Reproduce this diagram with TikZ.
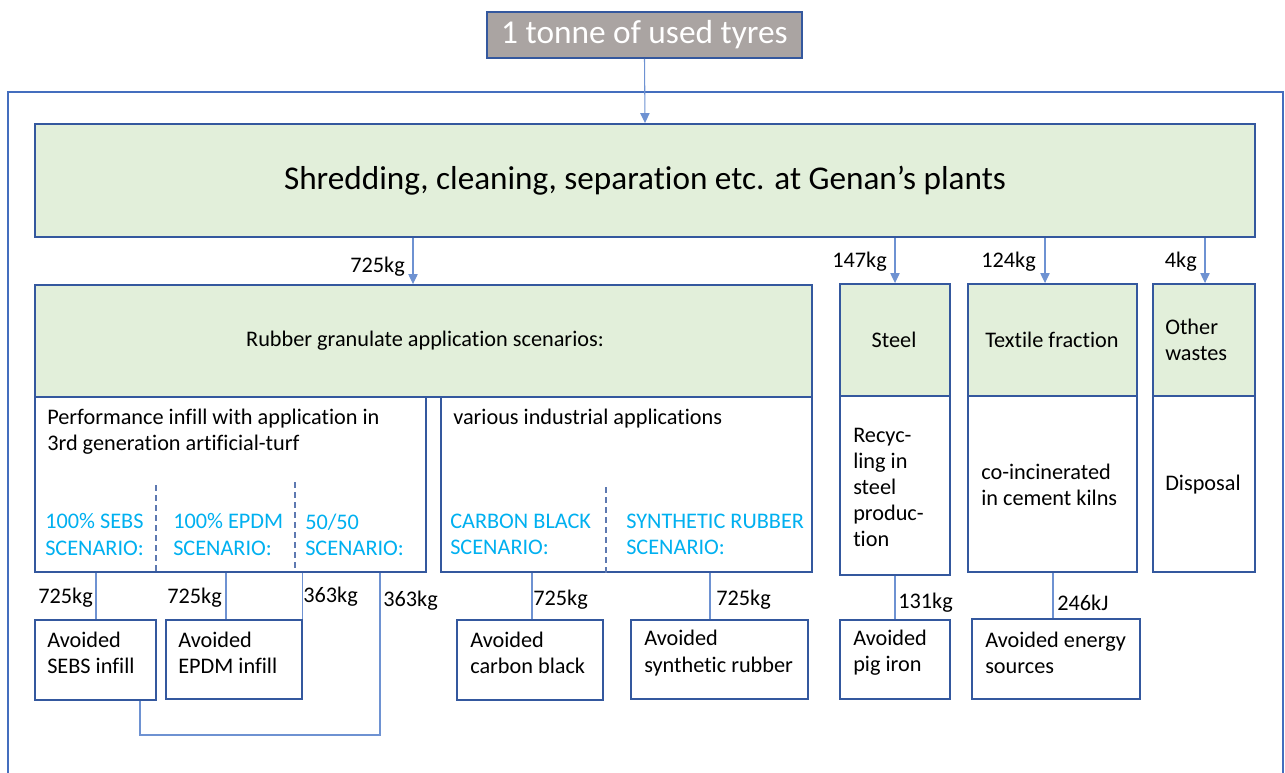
\documentclass[tikz,border=0pt]{standalone}
\usepackage{fontspec}
\setmainfont{Carlito}[Ligatures={NoCommon}]
\usetikzlibrary{arrows.meta,calc}
\definecolor{bord}{RGB}{52,88,158}
\definecolor{conn}{RGB}{110,146,210}
\definecolor{framec}{RGB}{68,110,190}
\definecolor{gfill}{RGB}{226,239,218}
\definecolor{grayfill}{RGB}{170,164,162}
\definecolor{scen}{RGB}{0,176,240}
\newcommand\smallfnt{\fontsize{16.7}{19.6}\selectfont}
\newcommand\bigfnt{\fontsize{24.9}{28}\selectfont}
\newcommand\topfnt{\fontsize{25}{28}\selectfont}
\begin{document}
\begin{tikzpicture}[x=0.75pt,y=-0.75pt,
  box/.style={draw=bord, line width=1.4pt, inner sep=0pt, fill=white},
  gbox/.style={box, fill=gfill},
  txt/.style={inner sep=0pt, align=left, font=\smallfnt, anchor=west},
  stxt/.style={txt, text=scen},
  lbl/.style={inner sep=0pt, font=\smallfnt},
  conline/.style={draw=conn, line width=0.8pt},
  arr/.style={conline, -{Triangle[length=7.5pt,width=7pt]}},
  dashline/.style={draw=bord!80, line width=0.9pt, dash pattern=on 4.5pt off 3pt},
  frameline/.style={draw=framec, line width=1.4pt}]
\useasboundingbox (0,0) rectangle (1285,773);
\fill[white] (0,0) rectangle (1285,773);
% outer frame
\draw[frameline] (8,790) -- (8,92) -- (1283,92) -- (1283,790);
% top nodes
\node[box, fill=grayfill, minimum width=236.25pt, minimum height=34.5pt, text=white, font=\topfnt] (top) at (644.5,35) {1 tonne of used tyres};
\node[gbox, minimum width=915pt, minimum height=84.75pt, font=\bigfnt] (shred) at (645,180.5) {Shredding, cleaning, separation etc. at Genan’s plants};
% green fraction boxes
\node[gbox, minimum width=582.75pt, minimum height=84pt] (rubber) at (423.5,341) {};
\node[gbox, minimum width=82.5pt, minimum height=84pt] (steel) at (895,340) {};
\node[gbox, minimum width=126.75pt, minimum height=84pt] (textile) at (1052.5,340) {};
\node[gbox, minimum width=76.5pt, minimum height=84pt] (other) at (1204,340) {};
% white boxes
\node[box, minimum width=293.25pt, minimum height=131.25pt] (perf) at (230.5,484.5) {};
\node[box, minimum width=278.25pt, minimum height=131.25pt] (various) at (626.5,484.5) {};
\node[box, minimum width=82.5pt, minimum height=134.25pt] (steelw) at (895,485.5) {};
\node[box, minimum width=126.75pt, minimum height=132pt] (textw) at (1052.5,484) {};
\node[box, minimum width=76.5pt, minimum height=132pt] (disp) at (1204,484) {};
% avoided boxes
\node[box, minimum width=90.75pt, minimum height=60pt] (sebs) at (95.5,660) {};
\node[box, minimum width=102pt, minimum height=59.25pt] (epdm) at (234,659.5) {};
\node[box, minimum width=109.5pt, minimum height=60pt] (cb) at (530,660) {};
\node[box, minimum width=132.75pt, minimum height=59.25pt] (sr) at (719.5,659.5) {};
\node[box, minimum width=82.5pt, minimum height=59.25pt] (pig) at (895,659.5) {};
\node[box, minimum width=126pt, minimum height=60pt] (energy) at (1056,659) {};
% texts
\node[lbl] (trubber) at (425,341) {Rubber granulate application scenarios:};
\node[lbl] (tsteel) at (894,340) {Steel};
\node[lbl] (ttextile) at (1052,340) {Textile fraction};
\node[txt] (tother) at (1165,340) {Other\\wastes};
\node[txt] (tperf) at (47,432) {Performance infill with application in\\3rd generation artificial-turf};
\node[stxt] (s1) at (45,534.5) {100\% SEBS\\SCENARIO:};
\node[stxt] (s2) at (173,534.5) {100\% EPDM\\SCENARIO:};
\node[stxt] (s3) at (305,534.5) {50/50\\SCENARIO:};
\node[txt] (tvar) at (453,419) {various industrial applications};
\node[stxt] (s4) at (450,534.5) {CARBON BLACK\\SCENARIO:};
\node[stxt] (s5) at (626,534.5) {SYNTHETIC RUBBER\\SCENARIO:};
\node[txt] (tsteelw) at (853,487.5) {Recyc-\\ling in\\steel\\produc-\\tion};
\node[txt] (ttextw) at (981,485) {co-incinerated\\in cement kilns};
\node[txt] (tdisp) at (1165,485) {Disposal};
\node[txt] (tsebs) at (47,653) {Avoided\\SEBS infill};
\node[txt] (tepdm) at (178,653) {Avoided\\EPDM infill};
\node[txt] (tcb) at (470,653) {Avoided\\carbon black};
\node[txt] (tsr) at (644,653) {Avoided\\synthetic rubber};
\node[txt] (tpig) at (853,653) {Avoided\\pig iron};
\node[txt] (tenergy) at (985,653) {Avoided energy\\sources};
% dashed separators
\draw[dashline] (156,485) -- (156,572);
\draw[dashline] (295,482) -- (295,572);
\draw[dashline] (606,487) -- (606,575);
% coordinates for connectors
\coordinate (x413) at (413,0);
\coordinate (x1045) at (1045,0);
\coordinate (x1205) at (1205,0);
\coordinate (x96) at (96,0);
\coordinate (x226) at (226,0);
\coordinate (x380) at (380,0);
\coordinate (x140) at (140,0);
\coordinate (x532) at (532,0);
\coordinate (x710) at (710,0);
\coordinate (x1053) at (1053,0);
\coordinate (low) at (140,735);
% arrows
\draw[arr] (top.south) -- (shred.north);
\draw[arr] (shred.south -| x413) -- (rubber.north -| x413);
\draw[arr] (shred.south -| steel.north) -- (steel.north);
\draw[arr] (shred.south -| x1045) -- (textile.north -| x1045);
\draw[arr] (shred.south -| x1205) -- (other.north -| x1205);
% lower connectors
\draw[conline] (perf.south -| x96) -- (sebs.north -| x96);
\draw[conline] (perf.south -| x226) -- (epdm.north -| x226);
\draw[conline] (perf.south -| epdm.north east) -- (epdm.north east);
\draw[conline] (perf.south -| x380) |- (low) -- (sebs.south -| x140);
\draw[conline] (various.south -| x532) -- (cb.north -| x532);
\draw[conline] (various.south -| x710) -- (sr.north -| x710);
\draw[conline] (steelw.south) -- (pig.north);
\draw[conline] (textw.south -| x1053) -- (energy.north -| x1053);
% quantity labels
\node[lbl, anchor=east] (q1) at (405,267) {725kg};
\node[lbl, anchor=east] (q2) at (887,262) {147kg};
\node[lbl, anchor=east] (q3) at (1036,262) {124kg};
\node[lbl, anchor=east] (q4) at (1197,262) {4kg};
\node[lbl, anchor=west] (q5) at (38,598) {725kg};
\node[lbl, anchor=west] (q6) at (167,598) {725kg};
\node[lbl, anchor=west] (q7) at (303,597) {363kg};
\node[lbl, anchor=west] (q8) at (383,601) {363kg};
\node[lbl, anchor=west] (q9) at (533,600) {725kg};
\node[lbl, anchor=west] (q10) at (716,600) {725kg};
\node[lbl, anchor=west] (q11) at (898,603) {131kg};
\node[lbl, anchor=west] (q12) at (1057,603) {246kJ};
\end{tikzpicture}
\end{document}
